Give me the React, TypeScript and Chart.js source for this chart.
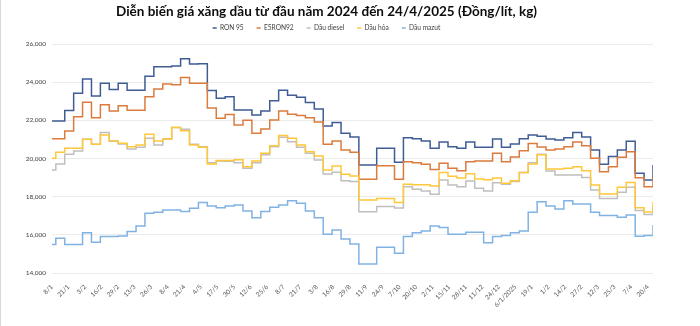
import React, { useEffect, useRef } from 'react';
import { Chart, registerables, layouts } from 'chart.js';

Chart.register(...registerables);

// Price adjustment dates (values hold until the next adjustment)
const dates = [
  '8/1/2024', '11/1/2024', '18/1/2024', '25/1/2024', '1/2/2024', '8/2/2024', '15/2/2024', '22/2/2024', '29/2/2024',
  '7/3/2024', '14/3/2024', '21/3/2024', '28/3/2024', '4/4/2024', '11/4/2024', '18/4/2024', '25/4/2024',
  '2/5/2024', '9/5/2024', '16/5/2024', '23/5/2024', '30/5/2024', '6/6/2024', '13/6/2024', '20/6/2024', '27/6/2024',
  '4/7/2024', '11/7/2024', '18/7/2024', '25/7/2024', '1/8/2024', '8/8/2024', '15/8/2024', '22/8/2024', '29/8/2024',
  '5/9/2024', '12/9/2024', '19/9/2024', '26/9/2024', '3/10/2024', '10/10/2024', '17/10/2024', '24/10/2024', '31/10/2024',
  '7/11/2024', '14/11/2024', '21/11/2024', '28/11/2024', '5/12/2024', '12/12/2024', '19/12/2024', '26/12/2024',
  '2/1/2025', '9/1/2025', '16/1/2025', '23/1/2025', '30/1/2025', '6/2/2025', '13/2/2025', '20/2/2025', '27/2/2025',
  '6/3/2025', '13/3/2025', '20/3/2025', '27/3/2025', '3/4/2025', '10/4/2025', '17/4/2025', '24/4/2025',
];

const ron95 = [
  21970, 21970, 22510, 23420, 24170, 23280, 23940, 23610, 23940,
  23580, 23580, 24310, 24810, 24810, 24850, 25230, 24950,
  24970, 23560, 23160, 23230, 22540, 22540, 22280, 22490, 23030,
  23580, 23310, 23210, 22930, 22600, 21700, 21880, 21320, 21130,
  19660, 19660, 20540, 20540, 19800, 21090, 21030, 20920, 20540,
  20870, 20620, 20540, 20870, 20590, 20590, 21020, 20590,
  20760, 21040, 21230, 21160, 21020, 20970, 21090, 21360, 21130,
  20450, 19700, 20100, 20450, 20900, 19230, 18870, 19660,
];

const e5ron92 = [
  21040, 21040, 21440, 22190, 22950, 22140, 22820, 22490, 22770,
  22530, 22530, 23240, 23640, 23910, 23870, 24240, 23940,
  23940, 22650, 22110, 22300, 21760, 22000, 21320, 21550, 22020,
  22490, 22320, 22250, 22140, 21910, 20750, 20920, 20450, 20330,
  18910, 18910, 19620, 19620, 18910, 19830, 19780, 19700, 19430,
  19750, 19490, 19360, 19830, 19870, 19870, 20270, 19830,
  20080, 20410, 20780, 20600, 20450, 20500, 20620, 20870, 20670,
  20010, 19310, 19570, 20060, 20360, 18990, 18520, 19000,
];

const dauDiesel = [
  19400, 19710, 20220, 20390, 21010, 20750, 21360, 20920, 20760,
  20500, 20590, 21060, 20710, 21020, 21620, 21530, 20750,
  20620, 19780, 19870, 19850, 19780, 19490, 19780, 20190, 20620,
  21110, 20880, 20590, 20270, 19920, 19190, 19280, 18840, 18790,
  17210, 17210, 17480, 17480, 17410, 18520, 18390, 18300, 18130,
  18870, 18610, 18520, 18820, 18440, 18300, 18730, 18650,
  18790, 19260, 19780, 20220, 19350, 19140, 19140, 19140, 19010,
  18350, 17910, 17910, 18230, 18490, 17280, 17060, 17450,
];

const dauHoa = [
  20010, 20330, 20540, 20540, 21010, 20750, 21230, 20920, 20800,
  20620, 20710, 21270, 20920, 21020, 21620, 21460, 20710,
  20590, 19710, 19890, 19890, 19940, 19570, 19870, 20270, 20670,
  21200, 21060, 20710, 20360, 20130, 19400, 19610, 19170, 19080,
  17830, 17830, 17910, 17910, 17700, 18650, 18620, 18620, 18560,
  19260, 19070, 18980, 19200, 18930, 18880, 18980, 18700,
  18840, 19260, 19710, 20190, 19450, 19450, 19490, 19570, 19360,
  18610, 18140, 18140, 18490, 18740, 17420, 17200, 17720,
];

const dauMazut = [
  15500, 15820, 15500, 15500, 16110, 15610, 15910, 15910, 15940,
  16170, 16460, 17130, 17180, 17300, 17300, 17220, 17390,
  17690, 17510, 17420, 17510, 17560, 17250, 16900, 17220, 17440,
  17560, 17790, 17650, 17250, 16900, 16030, 16250, 15780, 15520,
  14470, 14470, 15350, 15350, 15030, 15910, 16110, 16200, 16460,
  16390, 16030, 16030, 16130, 16130, 15590, 15910, 15960,
  16110, 16200, 17180, 17740, 17510, 17350, 17790, 17620, 17620,
  17180, 17010, 17010, 16920, 17040, 15920, 15960, 16520,
];

const seriesNames = ['RON 95', 'E5RON92', 'Dầu diesel', 'Dầu hỏa', 'Dầu mazut'];
const seriesColors = ['#3F5C95', '#DB7B3D', '#BFBFBF', '#FFC83A', '#80B2E3'];

const tickLabels = [
  '8/1', '21/1', '3/2', '16/2', '29/2', '13/3', '26/3', '8/4', '21/4', '4/5', '17/5', '30/5', '12/6',
  '25/6', '8/7', '21/7', '3/8', '16/8', '29/8', '11/9', '24/9', '7/10', '20/10', '2/11', '15/11',
  '28/11', '11/12', '24/12', '6/1/2025', '19/1', '1/2', '14/2', '27/2', '12/3', '25/3', '7/4', '20/4',
];
const TICK_EVERY_DAYS = 13;

const yTicks = [14000, 16000, 18000, 20000, 22000, 24000, 26000];

const FONT = 'Lato, "Noto Sans", sans-serif';

function toUTC(s: string) {
  const [d, m, y] = s.split('/').map(Number);
  return Date.UTC(y, m - 1, d);
}
const t0 = toUTC(dates[0]);
const dayIdx = dates.map((s) => Math.round((toUTC(s) - t0) / 86400000));

const legendSpacer = {
  id: 'legendSpacer',
  beforeInit(chart: any) {
    const box: any = {
      position: 'top',
      weight: 1,
      fullSize: true,
      options: {},
      left: 0, top: 0, right: 0, bottom: 0, width: 0, height: 0,
      isHorizontal() { return true; },
      update(maxWidth: number) { this.width = maxWidth; this.height = 2.7; this.right = maxWidth; },
      draw() {},
    };
    layouts.addBox(chart, box);
  },
};

export default function App() {
  const ref = useRef<HTMLCanvasElement | null>(null);
  useEffect(() => {
    document.body.style.margin = '0';
    const all = [ron95, e5ron92, dauDiesel, dauHoa, dauMazut];
    const chart = new Chart(ref.current as HTMLCanvasElement, {
      type: 'line',
      data: {
        datasets: all.map((vals, i) => ({
          label: seriesNames[i],
          data: vals.map((v, j) => ({ x: dayIdx[j], y: v })),
          borderColor: seriesColors[i],
          backgroundColor: seriesColors[i],
          borderWidth: 1.5,
          pointRadius: 0,
          stepped: true,
          fill: false,
          order: all.length - 1 - i,
        })),
      },
      plugins: [legendSpacer],
      options: {
        animation: false,
        responsive: false,
        layout: { padding: { left: 0, right: 47, top: 0, bottom: 0 } },
        plugins: {
          title: {
            display: true,
            text: 'Diễn biến giá xăng dầu từ đầu năm 2024 đến 24/4/2025 (Đồng/lít, kg)',
            color: '#0D0D0D',
            font: { family: FONT, size: 13.5, weight: 'bold', lineHeight: 1.2 },
            padding: { top: 3.6, bottom: -8.1 },
          },
          legend: {
            display: true,
            position: 'top',
            labels: {
              usePointStyle: true,
              pointStyle: 'line',
              pointStyleWidth: 4,
              color: '#404040',
              font: { family: FONT, size: 6.6 },
              padding: 13,
              sort: (a: any, b: any) => a.datasetIndex - b.datasetIndex,
            },
          },
          tooltip: { enabled: false },
        },
        scales: {
          x: {
            type: 'linear',
            min: 0,
            max: dayIdx[dayIdx.length - 1],
            afterBuildTicks: (scale: any) => {
              scale.ticks = tickLabels.map((_, i) => ({ value: i * TICK_EVERY_DAYS }));
            },
            afterFit: (scale: any) => { scale.height = 53; },
            grid: { display: false },
            border: { display: false },
            ticks: {
              autoSkip: false,
              maxRotation: 45,
              minRotation: 45,
              padding: 2,
              color: '#595959',
              font: { family: FONT, size: 6.5 },
              callback: (v: any) => tickLabels[Math.round(Number(v) / TICK_EVERY_DAYS)] ?? '',
            },
          },
          y: {
            min: 14000,
            max: 26000,
            afterBuildTicks: (scale: any) => { scale.ticks = yTicks.map((v) => ({ value: v })); },
            afterFit: (scale: any) => { scale.width = 52; },
            grid: { color: '#EBEBEB', drawTicks: false, lineWidth: 1 },
            border: { display: false },
            ticks: {
              padding: 6,
              color: '#404040',
              font: { family: FONT, size: 6.5 },
            },
          },
        },
      },
    } as any);
    return () => chart.destroy();
  }, []);
  return (
    <div style={{ position: 'relative', width: 700, height: 326 }}>
      <canvas ref={ref} width={700} height={326} style={{ display: 'block' }} />
      <div style={{ position: 'absolute', left: 0, top: 0, width: 700, height: 326, boxSizing: 'border-box', borderLeft: '1px solid #D9D9D9', pointerEvents: 'none' }} />
    </div>
  );
}
